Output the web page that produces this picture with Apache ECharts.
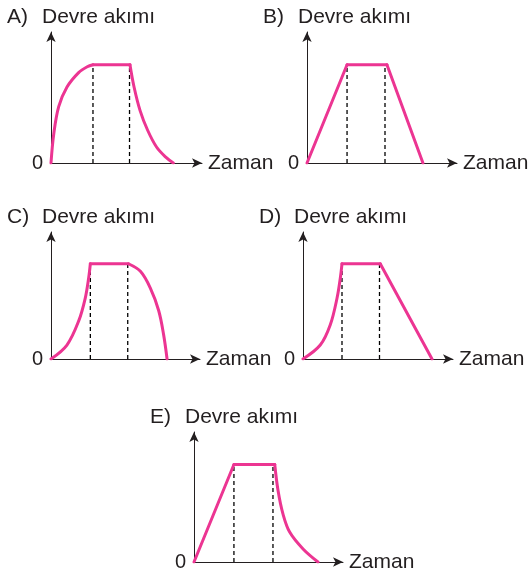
<!DOCTYPE html>
<html>
<head>
<meta charset="utf-8">
<script src="https://cdn.jsdelivr.net/npm/echarts@6/dist/echarts.min.js"></script>
<style>
  html, body { margin: 0; padding: 0; background: #fff; }
  #main { width: 531px; height: 574px; }
</style>
</head>
<body>
<div id="main"></div>
<script>
// panel letters and axis names
var letters = ['A)', 'B)', 'C)', 'D)', 'E)'];
var yName = 'Devre akımı';
var xName = 'Zaman';

// current of each panel, [time, current]: rise, flat top, fall
var riseA = [[0, 0], [0.18, 2.2], [0.51, 4.3], [1.06, 5.8], [1.83, 6.9], [2.4, 7.35], [2.78, 7.5]];
var topA = [[2.78, 7.5], [5.23, 7.5]];
var fallA = [[5.23, 7.5], [5.5, 5.8], [5.9, 4.0], [6.4, 2.5], [7.0, 1.2], [7.6, 0.45], [8.1, 0]];

var riseB = [[0, 0], [2.67, 7.5]];
var topB = [[2.67, 7.5], [5.33, 7.5]];
var fallB = [[5.33, 7.5], [7.73, 0]];

var riseC = [[0, 0], [1.07, 1.1], [1.86, 3.0], [2.3, 4.8], [2.53, 6.4], [2.64, 7.5]];
var topC = [[2.64, 7.5], [5.2, 7.5]];
var fallC = [[5.2, 7.5], [6.0, 6.9], [6.66, 5.6], [7.23, 3.8], [7.56, 1.9], [7.79, 0]];

var riseD = [[0, 0], [1.15, 1.1], [1.82, 2.7], [2.27, 4.8], [2.49, 6.4], [2.6, 7.5]];
var topD = [[2.6, 7.5], [5.15, 7.5]];
var fallD = [[5.15, 7.5], [8.6, 0]];

var riseE = [[0, 0], [2.68, 7.5]];
var topE = [[2.68, 7.5], [5.42, 7.5]];
var fallE = [[5.42, 7.5], [5.64, 5.5], [5.97, 3.7], [6.42, 2.3], [7.32, 1.0], [8.32, 0]];

var curves = [
    [riseA, topA, fallA],
    [riseB, topB, fallB],
    [riseC, topC, fallC],
    [riseD, topD, fallD],
    [riseE, topE, fallE]
];

// where the dashed guide lines stand, and how high
var dashes = [[2.78, 5.2], [2.67, 5.2], [2.64, 5.15], [2.6, 5.1], [2.68, 5.3]];
var dashTop = 7.5;

// plot boxes (origin-left, arrow-top, width, height)
var boxes = [
    [51, 32, 151, 131],
    [307, 32, 150, 131],
    [51, 232, 149, 127],
    [303, 232, 150, 127],
    [194, 432, 149, 130]
];

var pink = '#ec3592';
var ink = '#231f20';
var font = 'Liberation Sans, Arial, sans-serif';

var myChart = echarts.init(document.getElementById('main'));

var grids = [], xAxes = [], yAxes = [], series = [], titles = [];

for (var i = 0; i < boxes.length; i++) {
    var b = boxes[i];
    grids.push({ left: b[0], top: b[1], width: b[2], height: b[3] });
    xAxes.push({
        gridIndex: i,
        type: 'value',
        min: 0, max: 10,
        name: xName,
        nameLocation: 'end',
        nameGap: 6,
        nameTextStyle: { color: ink, fontSize: 21, fontFamily: font, verticalAlign: 'middle' },
        axisLine: { lineStyle: { color: ink, width: 1 }, symbol: ['none', 'arrow'], symbolSize: [7, 10] },
        axisTick: { show: false },
        axisLabel: { show: false },
        splitLine: { show: false }
    });
    yAxes.push({
        gridIndex: i,
        type: 'value',
        min: 0, max: 10, interval: 10,
        axisLine: { show: true, lineStyle: { color: ink, width: 1 }, symbol: ['none', 'arrow'], symbolSize: [7, 10] },
        axisTick: { show: false },
        axisLabel: {
            margin: 8,
            color: ink, fontSize: 20, fontFamily: font,
            formatter: function (v) { return v === 0 ? '0' : ''; }
        },
        splitLine: { show: false }
    });
    titles.push({
        text: letters[i],
        left: b[0] - 44,
        top: b[1] - 25,
        padding: 0,
        textStyle: { color: ink, fontSize: 21, fontWeight: 'normal', fontFamily: font }
    });
    titles.push({
        text: yName,
        left: b[0] - 9,
        top: b[1] - 25,
        padding: 0,
        textStyle: { color: ink, fontSize: 21, fontWeight: 'normal', fontFamily: font }
    });
    for (var j = 0; j < dashes[i].length; j++) {
        series.push({
            type: 'line',
            xAxisIndex: i, yAxisIndex: i,
            data: [[dashes[i][j], 0], [dashes[i][j], dashTop]],
            symbol: 'none',
            silent: true,
            lineStyle: { color: '#000', width: 1.3, type: [4, 3] }
        });
    }
    for (var k = 0; k < curves[i].length; k++) {
        series.push({
            type: 'line',
            xAxisIndex: i, yAxisIndex: i,
            data: curves[i][k],
            symbol: 'none',
            smooth: 0.35,
            lineStyle: { color: pink, width: 3, cap: 'round', join: 'round' }
        });
    }
}

var option = {
    animation: false,
    backgroundColor: '#fff',
    title: titles,
    grid: grids,
    xAxis: xAxes,
    yAxis: yAxes,
    series: series
};
myChart.setOption(option);
</script>
</body>
</html>
